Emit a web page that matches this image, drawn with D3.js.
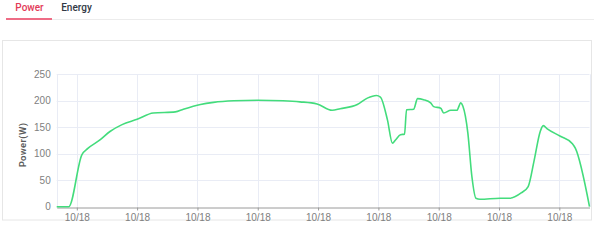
<!DOCTYPE html>
<html lang="en">
<head>
<meta charset="UTF-8">
<title>Power</title>
<script src="https://d3js.org/d3.v7.min.js"></script>
<style>
  body { margin: 0; background: #fff; }
  svg { display: block; font-family: Roboto, "Open Sans", Arial, sans-serif; }
  .tick text { fill: #808080; font-size: 10px; }
  .grid line { stroke: #e9ecf5; }
</style>
</head>
<body>
<svg width="594" height="250"></svg>
<script>
// readings for 10/18, time of day and power in W
const times = ["06:40","06:52","07:05","07:11","07:23","07:33","07:45","08:00","08:16","08:38",
  "08:46","09:03","09:16","09:36","10:00","10:25","10:42","10:59","11:14","11:22",
  "11:39","11:49","11:58","12:02","12:09","12:14","12:17","12:22","12:26","12:28",
  "12:35","12:39","12:45","12:52","12:55","13:02","13:05","13:12","13:18","13:22",
  "13:24","13:29","13:33","13:37","13:41","14:01","14:11","14:22","14:29","14:35",
  "14:41","14:44","14:48","15:01","15:13","15:16","15:30"]
const watts = [0,0,98,110,126,142,155,165,177,179,
  184,193,197,200,201,200,198,194,182,185,
  193,205,210,207,164,120,126,136,137,183,
  184,204,202,196,189,186,177,182,182,196,
  190,139,57,16,14,16,16,26,38,88,
  142,153,147,133,119,110,0]
const yTicks = [0, 50, 100, 150, 200, 250]
const xTickTimes = ["07:00","08:00","09:00","10:00","11:00","12:00","13:00","14:00","15:00"]
const tabs = ["Power", "Energy"]

const parse = d3.timeParse("%Y-%m-%d %H:%M")
const day = "2023-10-18 "
let data = times.map((t, i) => ({ t: parse(day + t), v: watts[i] }))

let svg = d3.select("svg")

// tabs
svg.append("line").attr("x1", 6).attr("x2", 594).attr("y1", 19.5).attr("y2", 19.5)
  .attr("stroke", "#ececec")
svg.append("line").attr("x1", 6).attr("x2", 52).attr("y1", 19).attr("y2", 19)
  .attr("stroke", "#ee6c85").attr("stroke-width", 2)
svg.selectAll(".tab").data(tabs).enter().append("text")
  .attr("x", (d, i) => i == 0 ? 29.5 : 76.5)
  .attr("y", 10.5)
  .attr("text-anchor", "middle")
  .attr("font-size", "10px")
  .attr("font-weight", 500)
  .attr("fill", (d, i) => i == 0 ? "#e33a58" : "#333a45")
  .text(d => d)

// card
svg.append("rect").attr("x", 2.5).attr("y", 40.5).attr("width", 589).attr("height", 179.5)
  .attr("fill", "none").attr("stroke", "#e6e6e6")

let plotL = 56.7, plotR = 589.5, plotT = 74.3, plotB = 206.7

let x = d3.scaleTime()
  .domain([parse(day + "06:40"), parse(day + "15:30")])
  .range([plotL, plotR])
let y = d3.scaleLinear().domain([0, 250]).range([plotB, plotT])

// grid
let grid = svg.append("g").attr("class", "grid")
grid.selectAll(".h").data(yTicks.slice(1)).enter().append("line")
  .attr("x1", plotL).attr("x2", plotR)
  .attr("y1", d => Math.round(y(d)) + 0.5).attr("y2", d => Math.round(y(d)) + 0.5)
let vx = [x.domain()[0]].concat(xTickTimes.map(t => parse(day + t)), [x.domain()[1]])
grid.selectAll(".v").data(vx).enter().append("line")
  .attr("x1", d => Math.round(x(d)) + 0.5).attr("x2", d => Math.round(x(d)) + 0.5)
  .attr("y1", plotT).attr("y2", plotB)

// y axis
let yAxis = svg.append("g")
  .attr("transform", `translate(${plotL},0)`)
  .call(d3.axisLeft(y).tickValues(yTicks).tickSize(0).tickPadding(6))
yAxis.select(".domain").remove()

// x axis
let xAxis = svg.append("g")
  .attr("transform", `translate(0,${Math.round(plotB) + 0.5})`)
  .call(d3.axisBottom(x).tickValues(xTickTimes.map(t => parse(day + t)))
    .tickFormat(d3.timeFormat("%m/%d")).tickSize(3).tickPadding(3).tickSizeOuter(0))
xAxis.select(".domain").attr("stroke", "#9a9a9a")
xAxis.selectAll(".tick line").attr("stroke", "#9a9a9a")

// y label
svg.append("text")
  .attr("transform", "translate(25.5,145) rotate(-90)")
  .attr("text-anchor", "middle")
  .attr("font-size", "9.5px")
  .attr("font-weight", 600)
  .attr("fill", "#5c5c5c")
  .attr("letter-spacing", "0.3px")
  .text("Power(W)")

// power line
let line = d3.line()
  .x(d => x(d.t))
  .y(d => y(d.v))
  .curve(d3.curveMonotoneX)
svg.append("path")
  .datum(data)
  .attr("fill", "none")
  .attr("stroke", "#43dc7c")
  .attr("stroke-width", 1.6)
  .attr("d", line)
</script>
</body>
</html>
